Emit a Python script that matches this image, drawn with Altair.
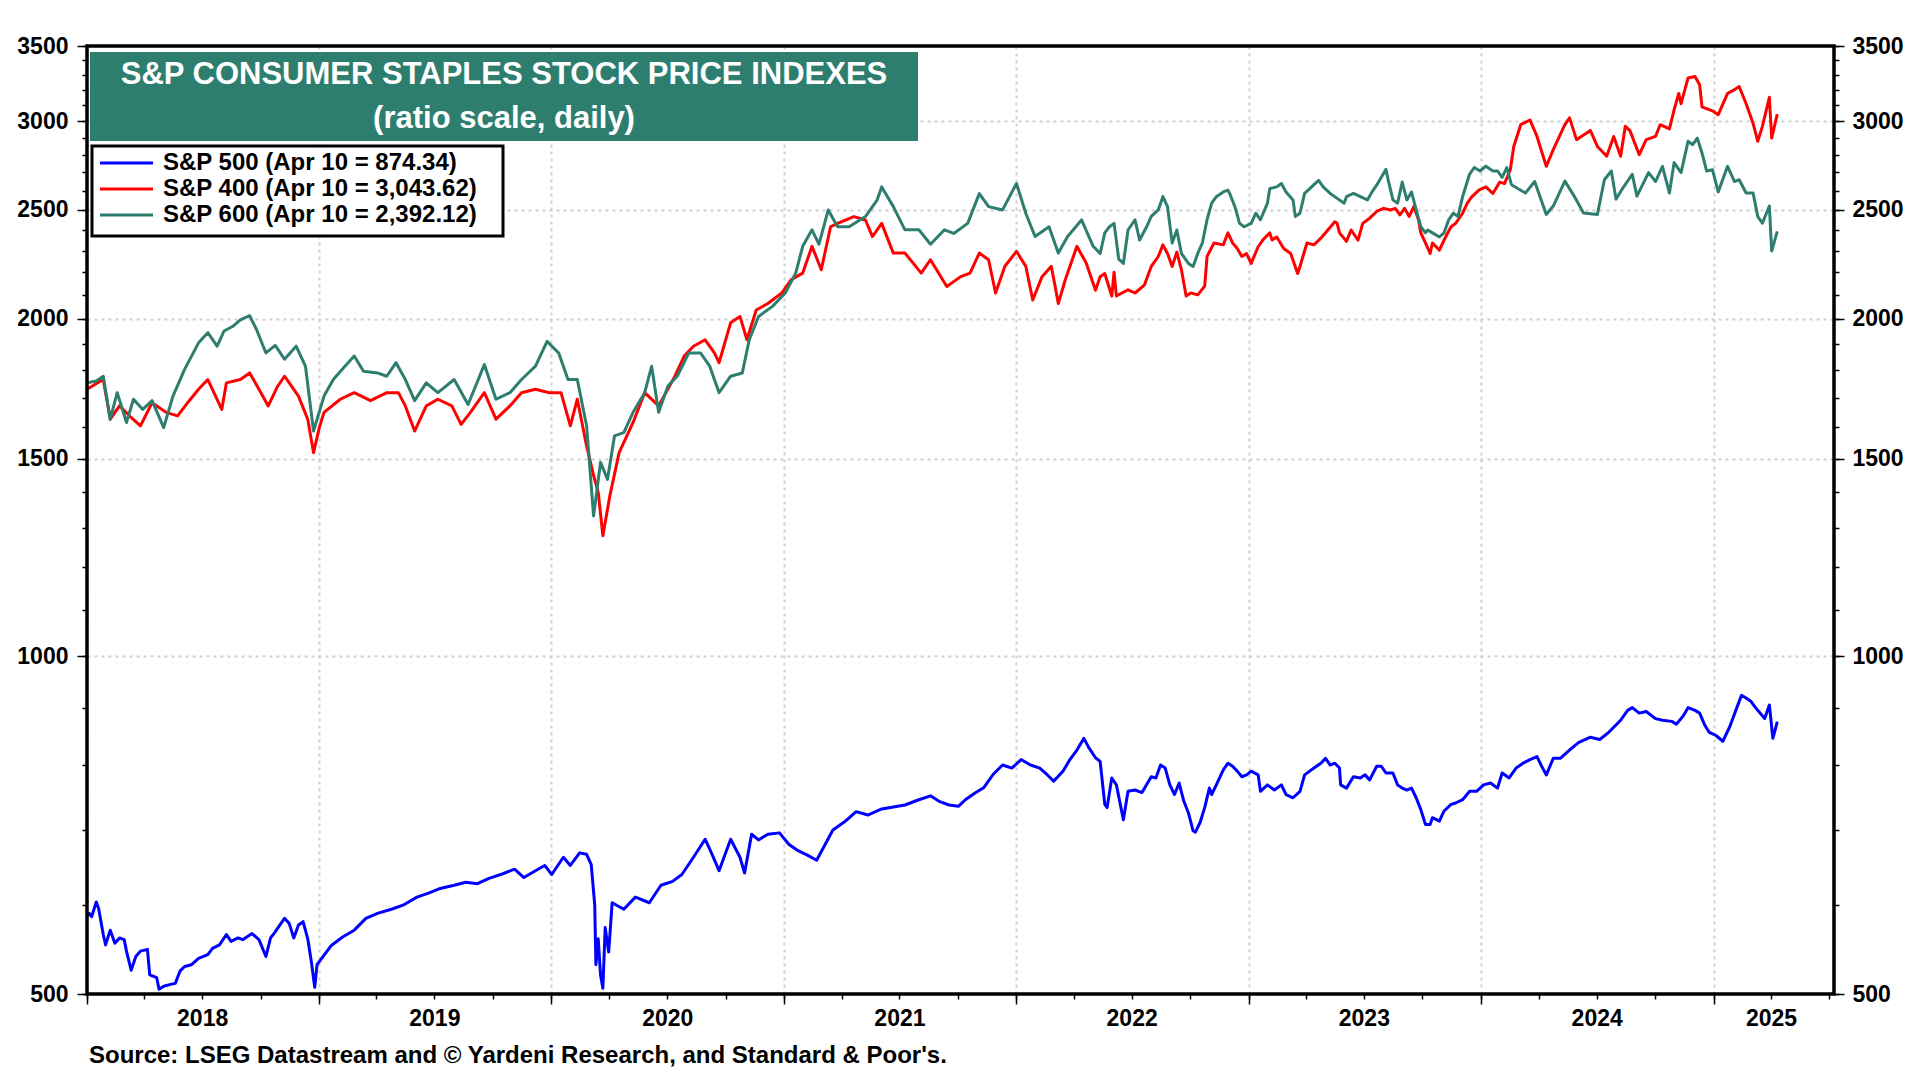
import altair as alt
import pandas as pd

# ---------------- data (decimal year, index level) ----------------
sp500_t = [2018.00, 2018.01, 2018.02, 2018.04, 2018.05, 2018.07, 2018.08, 2018.10, 2018.12, 2018.14,
           2018.16, 2018.17, 2018.19, 2018.21, 2018.23, 2018.26, 2018.27, 2018.30, 2018.31, 2018.33,
           2018.36, 2018.38, 2018.40, 2018.42, 2018.45, 2018.48, 2018.52, 2018.54, 2018.57, 2018.60,
           2018.62, 2018.65, 2018.67, 2018.71, 2018.74, 2018.77, 2018.79, 2018.81, 2018.84, 2018.85,
           2018.87, 2018.89, 2018.91, 2018.93, 2018.95, 2018.965, 2018.98, 2018.99, 2019.05, 2019.10,
           2019.15, 2019.20, 2019.25, 2019.31, 2019.36, 2019.42, 2019.47, 2019.52, 2019.58, 2019.63,
           2019.68, 2019.73, 2019.79, 2019.84, 2019.88, 2019.93, 2019.97, 2020.00, 2020.05, 2020.08,
           2020.12, 2020.15, 2020.17, 2020.185, 2020.19, 2020.20, 2020.21, 2020.22, 2020.23, 2020.245,
           2020.26, 2020.31, 2020.36, 2020.42, 2020.47, 2020.52, 2020.56, 2020.61, 2020.66, 2020.69,
           2020.72, 2020.77, 2020.81, 2020.83, 2020.86, 2020.89, 2020.93, 2020.98, 2021.02, 2021.06,
           2021.10, 2021.14, 2021.21, 2021.26, 2021.31, 2021.36, 2021.42, 2021.47, 2021.52, 2021.58,
           2021.63, 2021.67, 2021.71, 2021.75, 2021.78, 2021.82, 2021.86, 2021.90, 2021.94, 2021.98,
           2022.02, 2022.06, 2022.10, 2022.13, 2022.16, 2022.20, 2022.23, 2022.26, 2022.29, 2022.31,
           2022.34, 2022.36, 2022.38, 2022.39, 2022.41, 2022.43, 2022.46, 2022.48, 2022.51, 2022.54,
           2022.58, 2022.60, 2022.62, 2022.64, 2022.66, 2022.68, 2022.70, 2022.72, 2022.74, 2022.76,
           2022.77, 2022.79, 2022.81, 2022.83, 2022.84, 2022.86, 2022.89, 2022.91, 2022.93, 2022.95,
           2022.97, 2022.99, 2023.01, 2023.04, 2023.05, 2023.08, 2023.11, 2023.14, 2023.16, 2023.19,
           2023.22, 2023.24, 2023.28, 2023.31, 2023.33, 2023.35, 2023.37, 2023.39, 2023.395, 2023.42,
           2023.45, 2023.48, 2023.50, 2023.52, 2023.55, 2023.57, 2023.59, 2023.62, 2023.64, 2023.66,
           2023.68, 2023.70, 2023.72, 2023.74, 2023.76, 2023.78, 2023.79, 2023.82, 2023.84, 2023.87,
           2023.89, 2023.92, 2023.95, 2023.98, 2024.01, 2024.04, 2024.07, 2024.09, 2024.12, 2024.15,
           2024.18, 2024.21, 2024.24, 2024.26, 2024.28, 2024.31, 2024.34, 2024.38, 2024.42, 2024.47,
           2024.51, 2024.55, 2024.60, 2024.63, 2024.65, 2024.68, 2024.71, 2024.75, 2024.78, 2024.82,
           2024.84, 2024.87, 2024.89, 2024.92, 2024.94, 2024.96, 2024.98, 2025.01, 2025.04, 2025.07,
           2025.10, 2025.12, 2025.14, 2025.16, 2025.18, 2025.20, 2025.22, 2025.24, 2025.255, 2025.265,
           2025.274]
sp500_v = [586, 590, 586, 604, 596, 565, 553, 570, 555, 561,
           559, 546, 525, 540, 546, 548, 520, 517, 505, 508,
           510, 511, 524, 529, 531, 538, 542, 549, 553, 565,
           557, 561, 559, 566, 559, 540, 561, 568, 580, 584,
           578, 561, 576, 580, 560, 535, 507, 531, 552, 562,
           570, 584, 590, 595, 600, 610, 615, 621, 625, 629,
           627, 634, 640, 646, 635, 644, 651, 639, 662, 651,
           668, 666, 652, 600, 531, 560, 520, 506, 573, 545,
           603, 595, 610, 603, 625, 630, 639, 662, 687, 666,
           644, 687, 662, 641, 694, 686, 694, 696, 680, 671,
           665, 658, 700, 712, 727, 722, 731, 734, 737, 745,
           751, 742, 737, 735, 745, 755, 764, 785, 800, 795,
           809, 800, 795, 785, 774, 790, 809, 825, 845, 830,
           812, 806, 738, 733, 779, 768, 715, 758, 760, 756,
           781, 779, 800, 795, 768, 753, 771, 743, 725, 699,
           697, 711, 733, 763, 753, 768, 792, 803, 798, 790,
           781, 784, 790, 784, 758, 768, 760, 768, 753, 748,
           758, 784, 795, 803, 811, 800, 803, 795, 768, 763,
           781, 779, 784, 776, 798, 798, 787, 787, 768, 763,
           760, 763, 748, 730, 708, 708, 718, 713, 728, 738,
           740, 745, 758, 758, 768, 771, 763, 787, 779, 795,
           803, 809, 814, 798, 784, 811, 811, 825, 838, 847,
           843, 856, 877, 895, 900, 890, 893, 880, 877, 875,
           870, 885, 900, 895, 890, 870, 856, 850, 840, 866,
           900, 923, 918, 912, 900, 890, 880, 905, 845, 860,
           874.34]

sp400_t = [2018.00, 2018.03, 2018.07, 2018.10, 2018.14, 2018.18, 2018.23, 2018.28, 2018.34, 2018.39,
           2018.44, 2018.48, 2018.52, 2018.58, 2018.60, 2018.66, 2018.70, 2018.74, 2018.78, 2018.82,
           2018.85, 2018.91, 2018.95, 2018.975, 2019.00, 2019.02, 2019.09, 2019.15, 2019.22, 2019.29,
           2019.34, 2019.37, 2019.41, 2019.46, 2019.51, 2019.57, 2019.61, 2019.65, 2019.71, 2019.76,
           2019.82, 2019.87, 2019.93, 2019.99, 2020.04, 2020.08, 2020.11, 2020.15, 2020.18, 2020.20,
           2020.22, 2020.25, 2020.29, 2020.35, 2020.40, 2020.46, 2020.53, 2020.57, 2020.61, 2020.66,
           2020.70, 2020.72, 2020.77, 2020.81, 2020.84, 2020.88, 2020.93, 2020.99, 2021.03, 2021.08,
           2021.12, 2021.16, 2021.20, 2021.23, 2021.30, 2021.35, 2021.38, 2021.42, 2021.47, 2021.52,
           2021.59, 2021.63, 2021.70, 2021.76, 2021.80, 2021.84, 2021.88, 2021.91, 2021.95, 2022.00,
           2022.04, 2022.07, 2022.11, 2022.15, 2022.18, 2022.21, 2022.26, 2022.30, 2022.34, 2022.36,
           2022.38, 2022.41, 2022.42, 2022.43, 2022.48, 2022.51, 2022.55, 2022.58, 2022.61, 2022.63,
           2022.65, 2022.67, 2022.69, 2022.71, 2022.73, 2022.75, 2022.78, 2022.81, 2022.82, 2022.85,
           2022.89, 2022.91, 2022.93, 2022.95, 2022.97, 2022.99, 2023.01, 2023.04, 2023.06, 2023.09,
           2023.10, 2023.12, 2023.15, 2023.18, 2023.21, 2023.22, 2023.25, 2023.28, 2023.31, 2023.34,
           2023.37, 2023.38, 2023.39, 2023.42, 2023.44, 2023.47, 2023.49, 2023.52, 2023.55, 2023.58,
           2023.61, 2023.63, 2023.65, 2023.67, 2023.69, 2023.71, 2023.73, 2023.74, 2023.76, 2023.78,
           2023.79, 2023.82, 2023.84, 2023.87, 2023.89, 2023.92, 2023.94, 2023.96, 2023.99, 2024.02,
           2024.05, 2024.08, 2024.10, 2024.125, 2024.14, 2024.17, 2024.21, 2024.24, 2024.28, 2024.31,
           2024.36, 2024.38, 2024.41, 2024.47, 2024.50, 2024.54, 2024.57, 2024.60, 2024.62, 2024.64,
           2024.68, 2024.71, 2024.75, 2024.77, 2024.81, 2024.83, 2024.85, 2024.86, 2024.89, 2024.92,
           2024.94, 2024.95, 2025.00, 2025.02, 2025.06, 2025.09, 2025.11, 2025.14, 2025.17, 2025.19,
           2025.21, 2025.24, 2025.25, 2025.274]
sp400_v = [1730, 1745, 1765, 1627, 1672, 1640, 1605, 1683, 1650, 1638,
           1690, 1730, 1765, 1660, 1753, 1765, 1789, 1730, 1672, 1740,
           1777, 1706, 1627, 1519, 1600, 1650, 1695, 1718, 1690, 1718,
           1718, 1672, 1588, 1672, 1695, 1672, 1610, 1650, 1718, 1627,
           1672, 1718, 1730, 1718, 1718, 1605, 1695, 1540, 1450, 1400,
           1281, 1390, 1519, 1616, 1718, 1672, 1777, 1852, 1890, 1915,
           1864, 1827, 1983, 2009, 1915, 2036, 2063, 2108, 2166, 2196,
           2320, 2211, 2415, 2432, 2466, 2449, 2367, 2432, 2288, 2288,
           2196, 2257, 2136, 2180, 2196, 2288, 2257, 2108, 2227, 2296,
           2227, 2078, 2180, 2227, 2063, 2166, 2320, 2242, 2120, 2180,
           2194, 2095, 2200, 2095, 2122, 2108, 2142, 2226, 2272, 2327,
           2286, 2226, 2293, 2210, 2095, 2108, 2100, 2138, 2272, 2336,
           2327, 2385, 2336, 2310, 2272, 2286, 2240, 2318, 2350, 2385,
           2350, 2365, 2310, 2286, 2194, 2226, 2336, 2327, 2359, 2399,
           2440, 2432, 2385, 2344, 2399, 2350, 2432, 2458, 2492, 2508,
           2500, 2508, 2475, 2508, 2467, 2517, 2450, 2385, 2336, 2286,
           2336, 2302, 2350, 2415, 2432, 2483, 2535, 2569, 2604, 2621,
           2586, 2647, 2639, 2715, 2848, 2978, 3007, 2907, 2734, 2829,
           2978, 3020, 2888, 2942, 2848, 2791, 2907, 2791, 2968, 2942,
           2800, 2888, 2907, 2978, 2952, 3070, 3175, 3109, 3277, 3287,
           3232, 3089, 3060, 3040, 3175, 3200, 3221, 3109, 2986, 2878,
           2968, 3150, 2897, 3043.62]

sp600_t = [2018.00, 2018.04, 2018.07, 2018.10, 2018.13, 2018.17, 2018.20, 2018.24, 2018.28, 2018.33,
           2018.37, 2018.42, 2018.48, 2018.52, 2018.56, 2018.59, 2018.63, 2018.66, 2018.70, 2018.73,
           2018.77, 2018.81, 2018.85, 2018.90, 2018.94, 2018.975, 2019.02, 2019.06, 2019.11, 2019.15,
           2019.19, 2019.25, 2019.29, 2019.33, 2019.37, 2019.41, 2019.46, 2019.51, 2019.58, 2019.64,
           2019.71, 2019.76, 2019.82, 2019.87, 2019.93, 2019.98, 2020.03, 2020.07, 2020.11, 2020.15,
           2020.18, 2020.21, 2020.24, 2020.27, 2020.31, 2020.35, 2020.40, 2020.43, 2020.46, 2020.50,
           2020.54, 2020.59, 2020.64, 2020.68, 2020.72, 2020.77, 2020.82, 2020.85, 2020.89, 2020.95,
           2021.005, 2021.05, 2021.08, 2021.12, 2021.15, 2021.19, 2021.23, 2021.28, 2021.35, 2021.40,
           2021.42, 2021.47, 2021.52, 2021.58, 2021.63, 2021.69, 2021.73, 2021.79, 2021.84, 2021.88,
           2021.94, 2022.00, 2022.04, 2022.08, 2022.14, 2022.18, 2022.22, 2022.28, 2022.33, 2022.36,
           2022.38, 2022.40, 2022.42, 2022.44, 2022.46, 2022.48, 2022.51, 2022.53, 2022.56, 2022.58,
           2022.61, 2022.63, 2022.65, 2022.67, 2022.69, 2022.71, 2022.74, 2022.76, 2022.78, 2022.80,
           2022.82, 2022.84, 2022.86, 2022.89, 2022.91, 2022.92, 2022.94, 2022.96, 2022.98, 2023.01,
           2023.03, 2023.05, 2023.08, 2023.09, 2023.12, 2023.14, 2023.16, 2023.19, 2023.20, 2023.22,
           2023.24, 2023.27, 2023.30, 2023.32, 2023.35, 2023.38, 2023.41, 2023.42, 2023.45, 2023.48,
           2023.51, 2023.53, 2023.55, 2023.57, 2023.59, 2023.60, 2023.62, 2023.64, 2023.66, 2023.68,
           2023.70, 2023.72, 2023.74, 2023.76, 2023.77, 2023.79, 2023.82, 2023.84, 2023.86, 2023.88,
           2023.90, 2023.92, 2023.95, 2023.97, 2023.995, 2024.02, 2024.05, 2024.07, 2024.09, 2024.11,
           2024.13, 2024.19, 2024.23, 2024.28, 2024.31, 2024.36, 2024.40, 2024.44, 2024.50, 2024.53,
           2024.56, 2024.58, 2024.61, 2024.65, 2024.67, 2024.72, 2024.75, 2024.78, 2024.81, 2024.83,
           2024.86, 2024.89, 2024.91, 2024.93, 2024.95, 2024.97, 2024.995, 2025.02, 2025.06, 2025.09,
           2025.11, 2025.14, 2025.17, 2025.19, 2025.21, 2025.24, 2025.25, 2025.274]
sp600_v = [1753, 1760, 1777, 1627, 1718, 1616, 1695, 1660, 1690, 1599,
           1706, 1802, 1903, 1943, 1890, 1950, 1970, 1995, 2012, 1955,
           1864, 1893, 1840, 1890, 1814, 1588, 1706, 1765, 1814, 1852,
           1795, 1789, 1777, 1827, 1765, 1690, 1753, 1718, 1765, 1677,
           1820, 1695, 1718, 1765, 1814, 1909, 1864, 1765, 1765, 1605,
           1334, 1489, 1438, 1572, 1583, 1650, 1718, 1814, 1650, 1742,
           1777, 1864, 1864, 1814, 1718, 1777, 1789, 1915, 2009, 2051,
           2108, 2196, 2320, 2400, 2330, 2500, 2415, 2415, 2466, 2551,
           2621, 2517, 2400, 2400, 2330, 2400, 2382, 2432, 2585, 2517,
           2500, 2639, 2483, 2367, 2415, 2288, 2367, 2449, 2320, 2286,
           2385, 2415, 2432, 2260, 2240, 2399, 2450, 2350, 2415, 2467,
           2500, 2569, 2517, 2336, 2399, 2286, 2240, 2226, 2286, 2336,
           2450, 2535, 2569, 2594, 2604, 2578, 2517, 2432, 2415, 2432,
           2483, 2450, 2535, 2612, 2621, 2639, 2594, 2552, 2467, 2483,
           2586, 2621, 2656, 2621, 2586, 2560, 2535, 2569, 2586, 2569,
           2552, 2594, 2630, 2673, 2717, 2656, 2552, 2535, 2647, 2552,
           2594, 2500, 2415, 2385, 2399, 2385, 2365, 2385, 2450, 2483,
           2467, 2569, 2691, 2727, 2708, 2735, 2708, 2708, 2673, 2727,
           2633, 2588, 2650, 2477, 2520, 2652, 2572, 2484, 2477, 2660,
           2708, 2556, 2616, 2690, 2572, 2699, 2650, 2734, 2588, 2755,
           2699, 2878, 2858, 2897, 2810, 2708, 2715, 2594, 2734, 2650,
           2660, 2588, 2588, 2466, 2433, 2520, 2298, 2392.12]

series_names = ["S&P 500", "S&P 400", "S&P 600"]
series_colors = ["#0000FF", "#FF0000", "#2E7E6F"]
legend_labels = ["S&P 500 (Apr 10 = 874.34)",
                 "S&P 400 (Apr 10 = 3,043.62)",
                 "S&P 600 (Apr 10 = 2,392.12)"]
title_lines = ["S&P CONSUMER STAPLES STOCK PRICE INDEXES", "(ratio scale, daily)"]
source_text = "Source: LSEG Datastream and \u00a9 Yardeni Research, and Standard & Poor's."
y_major = [500, 1000, 1500, 2000, 2500, 3000, 3500]
y_minor = list(range(500, 3600, 100))
years = list(range(2018, 2026))

TEAL = "#2E7E6F"
FONT = "Liberation Sans"
W, H = 1747, 948


def to_iso(t):
    ts = pd.Timestamp("2018-01-01") + pd.Timedelta(days=(t - 2018.0) * 365.25)
    return ts.strftime("%Y-%m-%dT%H:%M:%SZ")


rows = []
for name, ts, vs in zip(series_names, [sp500_t, sp400_t, sp600_t], [sp500_v, sp400_v, sp600_v]):
    for t, v in zip(ts, vs):
        rows.append({"series": name, "date": to_iso(t), "value": v})
df = pd.DataFrame(rows)

year_starts = [alt.DateTime(year=y, month=1, date=1, utc=True) for y in years]
quarter_starts = [alt.DateTime(year=y, month=m, date=1, utc=True)
                  for y in years for m in (1, 4, 7, 10)
                  if not (y == 2025 and m == 10)]

xs = alt.Scale(type="utc",
               domain=[alt.DateTime(year=2018, month=1, date=1, utc=True),
                       alt.DateTime(year=2025, month=7, date=9, utc=True)])
ys = alt.Scale(type="log", domain=[500, 3500], nice=False)

grid_kw = dict(gridColor="#CFCFCF", gridDash=[3, 4], gridWidth=2)
tick_kw = dict(tickColor="black", tickWidth=1.5, domain=False, title=None)
lab_kw = dict(labelFont=FONT, labelFontSize=23, labelFontWeight="bold", labelColor="black",
              labelOverlap=False)

x_major = alt.Axis(orient="bottom", values=year_starts, tickSize=10, labels=False,
                   grid=True, **grid_kw, **tick_kw)
label_expr = ("((utcmonth(datum.value) == 6 && utcyear(datum.value) <= 2024) || "
              "(utcyear(datum.value) == 2025 && utcmonth(datum.value) == 3)) ? "
              "utcFormat(datum.value, '%Y') : ''")
x_minor = alt.Axis(orient="bottom", values=quarter_starts, tickSize=5, grid=False,
                   labelExpr=label_expr, labelPadding=8, labelFlush=False, **lab_kw, **tick_kw)

y_major_left = alt.Axis(orient="left", values=y_major, format="d", tickSize=10, labelPadding=9,
                        grid=True, **grid_kw, **lab_kw, **tick_kw)
y_minor_left = alt.Axis(orient="left", values=y_minor, tickSize=5, labels=False, grid=False, **tick_kw)
y_major_right = alt.Axis(orient="right", values=y_major, format="d", tickSize=10, labelPadding=8,
                         grid=False, **lab_kw, **tick_kw)
y_minor_right = alt.Axis(orient="right", values=y_minor, tickSize=5, labels=False, grid=False, **tick_kw)

color = alt.Color("series:N", scale=alt.Scale(domain=series_names, range=series_colors), legend=None)

lines = alt.Chart(df).mark_line(strokeWidth=3, strokeJoin="round").encode(
    x=alt.X("date:T", scale=xs, axis=x_major),
    y=alt.Y("value:Q", scale=ys, axis=y_major_left),
    color=color,
)
ghost_a = alt.Chart(df).mark_line(opacity=0).encode(
    x=alt.X("date:T", scale=xs, axis=x_minor),
    y=alt.Y("value:Q", scale=ys, axis=y_minor_left),
    detail="series:N",
)
ghost_b = alt.Chart(df).mark_line(opacity=0).encode(
    x=alt.X("date:T", scale=xs, axis=None),
    y=alt.Y("value:Q", scale=ys, axis=y_major_right),
    detail="series:N",
)
ghost_c = alt.Chart(df).mark_line(opacity=0).encode(
    x=alt.X("date:T", scale=xs, axis=None),
    y=alt.Y("value:Q", scale=ys, axis=y_minor_right),
    detail="series:N",
)

one = pd.DataFrame({"k": [0]})

title_box = alt.Chart(one).mark_rect(color=TEAL).encode(
    x=alt.value(3), x2=alt.value(831), y=alt.value(6), y2=alt.value(95))
title_texts = [
    alt.Chart(one).mark_text(font=FONT, fontSize=31, fontWeight="bold", color="white",
                             align="center", baseline="middle").encode(
        x=alt.value(417), y=alt.value(yy), text=alt.value(txt))
    for txt, yy in zip(title_lines, [29, 73])
]

legend_box = alt.Chart(one).mark_rect(fill="white", stroke="black", strokeWidth=3).encode(
    x=alt.value(5), x2=alt.value(416), y=alt.value(100), y2=alt.value(190))
legend_items = []
for i, (lab, col) in enumerate(zip(legend_labels, series_colors)):
    yy = 117 + 26 * i
    legend_items.append(
        alt.Chart(one).mark_rule(color=col, strokeWidth=3).encode(
            x=alt.value(13), x2=alt.value(66), y=alt.value(yy)))
    legend_items.append(
        alt.Chart(one).mark_text(font=FONT, fontSize=24, fontWeight="bold", color="black",
                                 align="left", baseline="middle").encode(
            x=alt.value(76), y=alt.value(yy), text=alt.value(lab)))

source = alt.Chart(one).mark_text(font=FONT, fontSize=24, fontWeight="bold", color="black",
                                  align="left", baseline="middle").encode(
    x=alt.value(2), y=alt.value(1010), text=alt.value(source_text))

frame = alt.Chart(one).mark_rect(fillOpacity=0, stroke="black", strokeWidth=3.5).encode(
    x=alt.value(0), x2=alt.value(W), y=alt.value(0), y2=alt.value(H))

chart = alt.layer(
    lines, ghost_a, ghost_b, ghost_c,
    title_box, *title_texts, legend_box, *legend_items, source, frame,
).resolve_axis(x="independent", y="independent").properties(
    width=W, height=H,
    padding={"left": 79, "top": 38, "right": 76, "bottom": 78},
    autosize=alt.AutoSizeParams(type="none"),
    background="white",
).configure(font=FONT).configure_view(stroke=None)

chart.save("out.html", embed_options={"renderer": "svg", "actions": False})
